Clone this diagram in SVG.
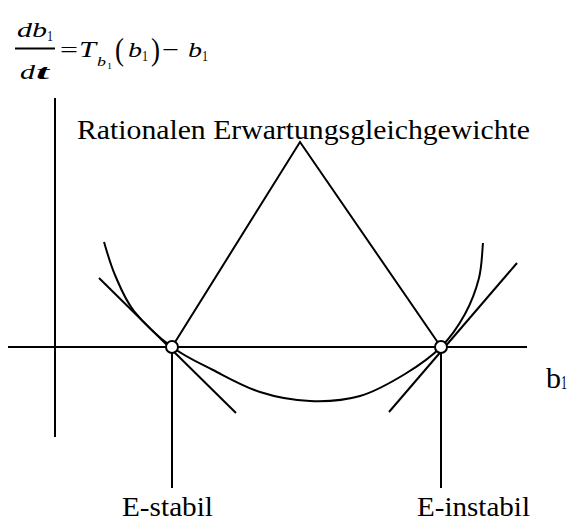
<svg xmlns="http://www.w3.org/2000/svg" width="571" height="522" viewBox="0 0 571 522">
<style>
.ln{stroke:#000;stroke-width:2;fill:none;stroke-linecap:butt}
.pt{stroke:#000;stroke-width:2;fill:#fff}
text{font-family:"Liberation Serif","Times New Roman",serif;fill:#000}
.m{font-style:italic}
.b{font-style:italic;font-weight:bold}
</style>
<rect width="571" height="522" fill="#fff"/>
<g id="formula">
<text class="m" x="17" y="37" font-size="22" textLength="30" lengthAdjust="spacingAndGlyphs">db</text>
<text x="47" y="41" font-size="14" textLength="6" lengthAdjust="spacingAndGlyphs">1</text>
<line class="ln" x1="15" y1="48.5" x2="55" y2="48.5"/>
<text class="m" x="20" y="79" font-size="22" textLength="15" lengthAdjust="spacingAndGlyphs">d</text>
<text class="b" x="36" y="79" font-size="22" textLength="13" lengthAdjust="spacingAndGlyphs">t</text>
<text x="60" y="57" font-size="22" textLength="18" lengthAdjust="spacingAndGlyphs">=</text>
<text class="m" x="79" y="57" font-size="23" textLength="17" lengthAdjust="spacingAndGlyphs">T</text>
<text class="m" x="97" y="66" font-size="13" textLength="9" lengthAdjust="spacingAndGlyphs">b</text>
<text x="107" y="69" font-size="9" textLength="5" lengthAdjust="spacingAndGlyphs">1</text>
<text x="115" y="60" font-size="31" textLength="9" lengthAdjust="spacingAndGlyphs">(</text>
<text class="m" x="128" y="57" font-size="22" textLength="14" lengthAdjust="spacingAndGlyphs">b</text>
<text x="142" y="61" font-size="14" textLength="6" lengthAdjust="spacingAndGlyphs">1</text>
<text x="151" y="60" font-size="31" textLength="9" lengthAdjust="spacingAndGlyphs">)</text>
<text x="162" y="57" font-size="22" textLength="17" lengthAdjust="spacingAndGlyphs">−</text>
<text class="m" x="188" y="57" font-size="22" textLength="14" lengthAdjust="spacingAndGlyphs">b</text>
<text x="202" y="61" font-size="14" textLength="6" lengthAdjust="spacingAndGlyphs">1</text>
</g>
<g id="connectors">
<line id="y-axis" class="ln" x1="55" y1="98" x2="55" y2="437"/>
<line id="x-axis" class="ln" x1="8" y1="347" x2="527" y2="347"/>
<path id="curve" class="ln" d="M104,242 C105.8,247.7 110,263.5 115,275 C120,286.5 124.5,299 134,311 C143.5,323 158.8,337.2 172,347 C185.2,356.8 198.3,362.5 213,370 C227.7,377.5 243.8,386.8 260,392 C276.2,397.2 293.3,400.3 310,401 C326.7,401.7 344.2,400.5 360,396 C375.8,391.5 391.5,382.2 405,374 C418.5,365.8 431,357 441,347 C451,337 458.7,325.5 465,314 C471.3,302.5 476,289.8 479,278 C482,266.2 482.3,248.8 483,243"/>
<line id="tangent-left" class="ln" x1="99" y1="278" x2="236" y2="413"/>
<line id="tangent-right" class="ln" x1="517" y1="263" x2="389" y2="412"/>
<polyline id="triangle" class="ln" points="172,347 300,142 441,347"/>
<line id="drop-left" class="ln" x1="172" y1="347" x2="172" y2="488"/>
<line id="drop-right" class="ln" x1="441" y1="347" x2="441" y2="488"/>
</g>
<g id="eq-stable"><circle class="pt" cx="172" cy="347" r="6"/></g>
<g id="eq-unstable"><circle class="pt" cx="441" cy="347" r="6"/></g>
<g id="label-ree"><text x="77" y="139" font-size="28" textLength="453" lengthAdjust="spacingAndGlyphs">Rationalen Erwartungsgleichgewichte</text></g>
<g id="label-b1"><text x="546" y="388" font-size="29" textLength="15" lengthAdjust="spacingAndGlyphs">b</text><text x="561" y="389" font-size="18" textLength="6" lengthAdjust="spacingAndGlyphs">1</text></g>
<g id="label-stabil"><text x="122" y="516" font-size="28" textLength="91" lengthAdjust="spacingAndGlyphs">E-stabil</text></g>
<g id="label-instabil"><text x="417" y="516" font-size="28" textLength="113" lengthAdjust="spacingAndGlyphs">E-instabil</text></g>
</svg>
